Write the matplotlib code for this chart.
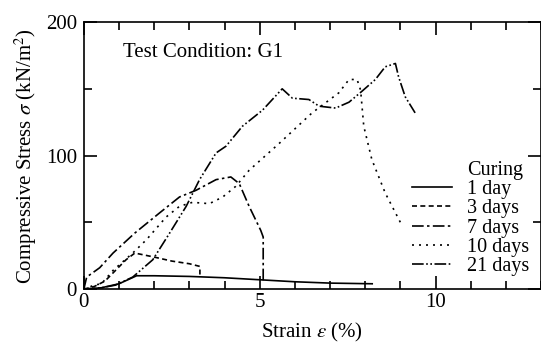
import numpy as np
import matplotlib.pyplot as plt
from matplotlib.ticker import MultipleLocator

plt.rcParams['font.family'] = ['Liberation Serif', 'DejaVu Serif']
plt.rcParams['mathtext.fontset'] = 'stix'

# strain (%) / stress (kN/m2)
x_1d = [0, 0.5, 1.0, 1.5, 2.0, 3.0, 4.0, 5.0, 6.0, 7.0, 8.2]
y_1d = [0, 1, 4, 10, 10, 9.5, 8.5, 7, 5.5, 4.5, 4]

x_3d = [0, 0.3, 0.6, 0.9, 1.2, 1.45, 2.0, 2.5, 3.0, 3.3, 3.3]
y_3d = [0, 2, 6, 14, 22, 27, 24, 21, 19, 17, 10]

x_7d = [0, 0.08, 0.45, 0.83, 1.45, 2.15, 2.72, 3.19, 3.76, 4.18, 4.42, 4.7, 5.03, 5.1, 5.1]
y_7d = [0, 9, 16, 27, 42, 57, 69, 74, 82, 84, 79, 62, 44, 39, 6]

x_10d = [0, 0.3, 0.5, 0.83, 1.39, 1.78, 2.34, 2.72, 3.09, 3.57, 3.95, 4.32, 4.7,
         5.55, 6.49, 7.25, 7.54, 7.77, 7.87, 7.96, 8.19, 8.57, 9.04]
y_10d = [0, 3, 4, 14, 27, 37, 54, 62, 65, 64, 69, 77, 89,
         109, 132, 147, 157, 157, 149, 122, 97, 72, 48]

x_21d = [0, 0.5, 0.9, 1.39, 1.96, 2.44, 2.91, 3.29, 3.76, 4.04, 4.51, 5.08, 5.64,
         5.93, 6.4, 6.69, 7.16, 7.54, 7.9, 8.29, 8.57, 8.86, 8.95, 9.14, 9.42]
y_21d = [0, 1, 3, 9, 22, 42, 62, 82, 102, 107, 122, 134, 150,
         143, 142, 137, 135.6, 140, 148, 157, 166.5, 169, 159, 144, 132]

FS = 15

fig = plt.figure(figsize=(5.41, 3.45), dpi=100)
ax = fig.add_axes([0.155, 0.162, 0.845, 0.774])

# invisible entry so "Curing" lines up with the labels
ax.plot([], [], color='none', label='Curing')
ax.plot(x_1d, y_1d, color='black', lw=1.2, ls='-', label='1 day')
ax.plot(x_3d, y_3d, color='black', lw=1.2, ls=(0, (3, 2)), label='3 days')
ax.plot(x_7d, y_7d, color='black', lw=1.2, ls=(0, (7, 2, 1.5, 2)), label='7 days')
ax.plot(x_10d, y_10d, color='black', lw=1.2, ls=(0, (1.2, 3)), label='10 days')
ax.plot(x_21d, y_21d, color='black', lw=1.2, ls=(0, (7, 1.5, 1, 1.5, 1, 1.5)), label='21 days')

ax.set_xlim(0, 13)
ax.set_ylim(0, 200)
ax.xaxis.set_major_locator(MultipleLocator(5))
ax.xaxis.set_minor_locator(MultipleLocator(1))
ax.yaxis.set_major_locator(MultipleLocator(100))
ax.yaxis.set_minor_locator(MultipleLocator(50))
ax.tick_params(which='both', direction='in', top=True, right=True, labelsize=FS, width=1.2)
ax.tick_params(which='major', length=9.5)
ax.tick_params(which='minor', length=5.5)
ax.tick_params(axis='x', which='major', pad=3)
ax.tick_params(axis='y', which='major', pad=5)
for s in ax.spines.values():
    s.set_linewidth(1.2)

ax.set_xlabel(r'Strain $\varepsilon$ (%)', fontsize=FS, labelpad=6)
ax.set_ylabel(r'Compressive Stress $\sigma$ (kN/m$^2$)', fontsize=FS, labelpad=5)
ax.text(1.1, 177, 'Test Condition: G1', fontsize=FS, va='center')

leg = ax.legend(loc='lower right', bbox_to_anchor=(0.975, 0.05),
                frameon=False, fontsize=14.5, borderpad=0, borderaxespad=0,
                handlelength=2.0, handletextpad=0.75, labelspacing=0.0)

fig.savefig('out.png', dpi=100)
